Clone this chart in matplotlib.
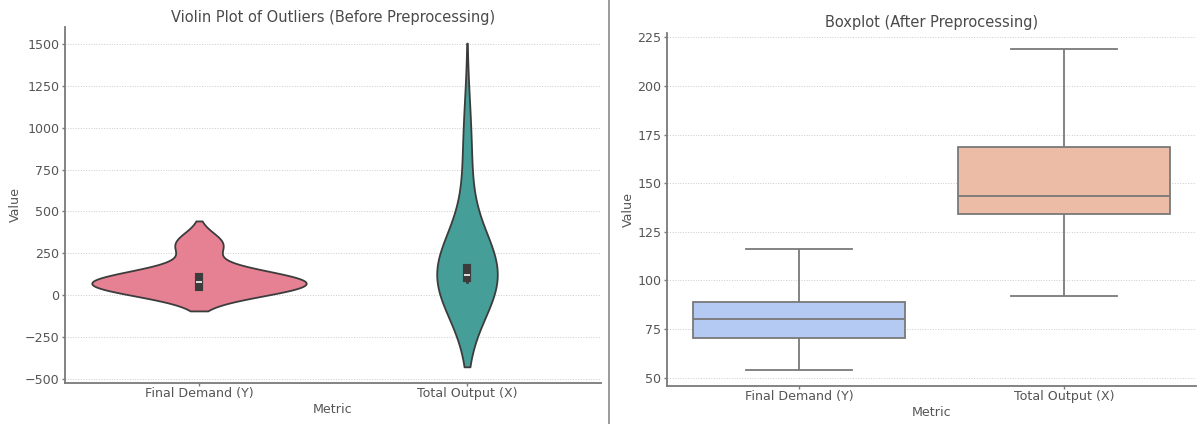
import matplotlib
matplotlib.use("Agg")
import matplotlib.pyplot as plt
import seaborn as sns
import numpy as np
import pandas as pd
from matplotlib.lines import Line2D

# valores (antes do pré-processamento, com outliers)
final_demand_raw = [43, 48, 55, 96, 112, 304]
total_output_raw = [76, 88, 94, 98, 102, 110, 114, 122, 135, 150, 162, 180, 690, 1000]

# depois do pré-processamento
final_demand_clean = [54, 62, 70.5, 75, 80, 85, 89, 100, 116]
total_output_clean = [92, 115, 134, 139, 143.5, 155, 168.5, 190, 219]

categorias = ['Final Demand (Y)', 'Total Output (X)']

df_clean = pd.DataFrame({
    'Metric': [categorias[0]] * len(final_demand_clean) + [categorias[1]] * len(total_output_clean),
    'Value': final_demand_clean + total_output_clean,
})

cinza = '#555555'
plt.rcParams.update({
    'font.family': 'DejaVu Sans',
    'font.size': 9.1,
    'text.color': cinza,
    'axes.labelcolor': cinza,
    'axes.edgecolor': '#7a7a7a',
    'axes.linewidth': 1.3,
    'xtick.color': '#7a7a7a',
    'ytick.color': '#7a7a7a',
    'xtick.labelcolor': cinza,
    'ytick.labelcolor': cinza,
})

fig = plt.figure(figsize=(11.97, 4.24), dpi=100)
ax1 = fig.add_axes([65 / 1197, 41 / 424, 536 / 1197, 356 / 424])
ax2 = fig.add_axes([667 / 1197, 38 / 424, 529 / 1197, 353 / 424])

# Gráfico 1: violino (um por métrica, largura relativa à densidade)
cores = sns.color_palette('husl', 2)
violinos = [
    (final_demand_raw, 'scott', 0.8),
    (total_output_raw, 253 / np.std(total_output_raw, ddof=1), 0.226),
]
for (valores, bw, largura), cat, cor in zip(violinos, categorias, cores):
    sns.violinplot(x=[cat] * len(valores), y=valores, order=categorias, color=cor,
                   bw_method=bw, width=largura, ax=ax1, linewidth=1.3, linecolor='#3c3c3c')
ax1.set_title('Violin Plot of Outliers (Before Preprocessing)', fontsize=10.5, pad=3.5, color='#4a4a4a')

# Gráfico 2: boxplot
sns.boxplot(data=df_clean, x='Metric', y='Value', hue='Metric', palette='coolwarm',
            legend=False, ax=ax2, linewidth=1.3)
ax2.set_title('Boxplot (After Preprocessing)', fontsize=10.5, pad=4, color='#4a4a4a')

for ax in (ax1, ax2):
    ax.spines['top'].set_visible(False)
    ax.spines['right'].set_visible(False)
    ax.set_axisbelow(True)
    ax.grid(axis='y', linestyle=':', linewidth=0.7, color='#cccccc')
    ax.tick_params(length=2.5, width=1, pad=1.5)
    ax.tick_params(axis='x', pad=0.3)
    ax.set_xlabel('Metric', labelpad=2)
    ax.set_ylabel('Value', labelpad=2)

ax1.set_yticks([-500, -250, 0, 250, 500, 750, 1000, 1250, 1500])
ax2.set_yticks([50, 75, 100, 125, 150, 175, 200, 225])

# linha que separa as duas figuras
fig.add_artist(Line2D([608.5 / 1197, 608.5 / 1197], [0, 1], color='#8a8a8a', linewidth=1.2))

fig.savefig('out.png', dpi=100)
